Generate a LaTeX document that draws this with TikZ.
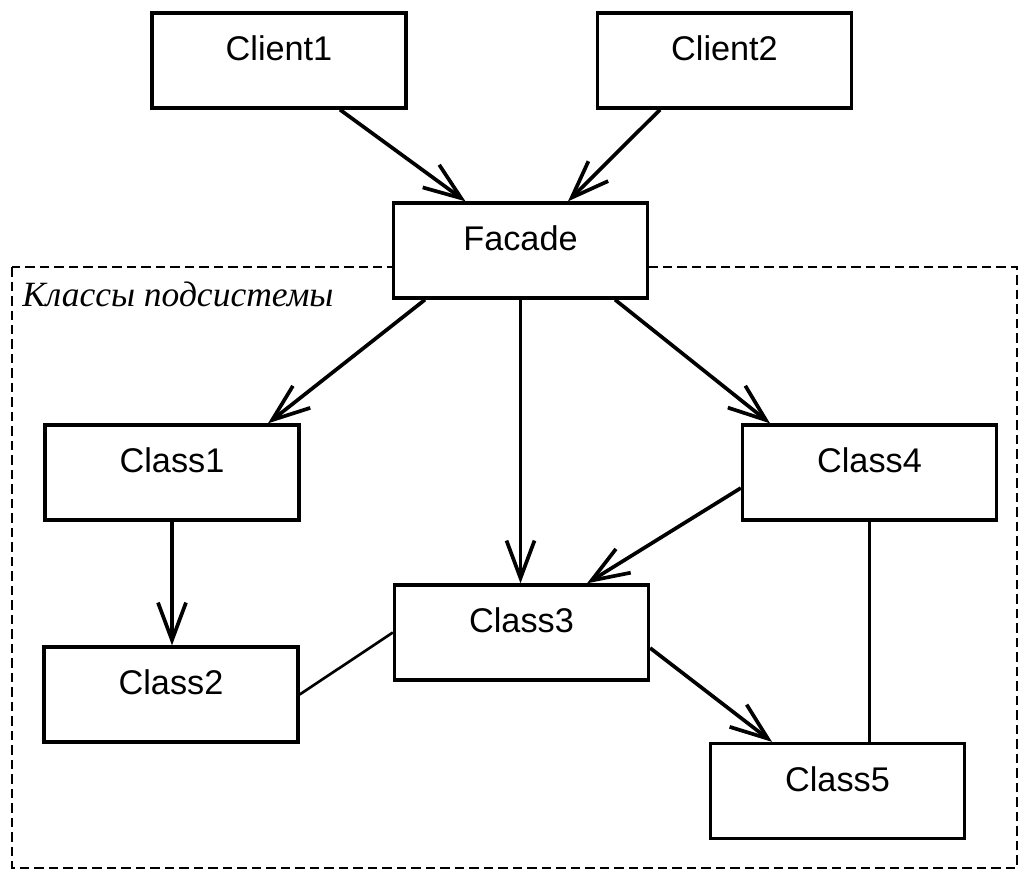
\documentclass[tikz,border=0pt]{standalone}
\usepackage{fontspec}
\setmainfont{Liberation Sans}
\newfontfamily\subsysfont{Liberation Serif}
\usetikzlibrary{arrows.meta}
\tikzset{
  classbox/.style={draw, line width=1.9pt, fill=white, minimum width=5.08cm, minimum height=1.9cm,
    text height=0.6cm, text depth=0.6cm, inner sep=0pt, font=\fontsize{19.5}{22}\selectfont},
  uses/.style={line width=2.1pt, -{Straight Barb[length=0.75cm, width=0.56cm, line width=2.1pt]}},
  plainlink/.style={line width=1.5pt},
  subframe/.style={line width=1.6pt, dash pattern=on 0.19cm off 0.1cm},
}
\begin{document}
\begin{tikzpicture}[x=0.02cm,y=-0.02cm,line join=miter]
    \useasboundingbox (0,0) rectangle (1019,870);

    % subsystem frame
    \draw [subframe] (12,267) rectangle (1017,868);
    \node [anchor=base west, inner sep=0pt, font=\subsysfont\itshape\fontsize{20.2}{22}\selectfont] (subsys) at (22,306) {Классы подсистемы};

    % classes
    \node [classbox] (client1) at (279,60.5) {Client1};
    \node [classbox] (client2) at (724.5,60.5) {Client2};
    \node [classbox] (facade) at (520.5,250.5) {Facade};
    \node [classbox] (class1) at (172,472.5) {Class1};
    \node [classbox] (class4) at (869.5,472.5) {Class4};
    \node [classbox] (class3) at (521.5,632.5) {Class3};
    \node [classbox] (class2) at (171,694.5) {Class2};
    \node [classbox] (class5) at (837.5,791) {Class5};

    % clients to facade
    \draw [uses] ([xshift=1.22cm]client1.south) -- ([xshift=-1.1cm]facade.north);
    \draw [uses] ([xshift=-1.29cm]client2.south) -- ([xshift=0.95cm]facade.north);

    % facade to subsystem
    \draw [uses] ([xshift=-1.91cm]facade.south) -- ([xshift=1.92cm]class1.north);
    \draw [uses] (facade.south) -- (facade.south |- class3.north);
    \draw [uses] ([xshift=1.89cm]facade.south) -- ([xshift=-1.99cm]class4.north);

    % inside subsystem
    \draw [uses] (class1.south) -- (class1.south |- class2.north);
    \draw [uses] ([yshift=-0.31cm]class4.west) -- ([xshift=1.31cm]class3.north);
    \draw [uses] ([yshift=-0.31cm]class3.east) -- ([xshift=-1.31cm]class5.north);
    \draw [plainlink] (class2.east) -- (class3.west);
    \draw [plainlink] (class4.south) -- (class4.south |- class5.north);
\end{tikzpicture}
\end{document}
